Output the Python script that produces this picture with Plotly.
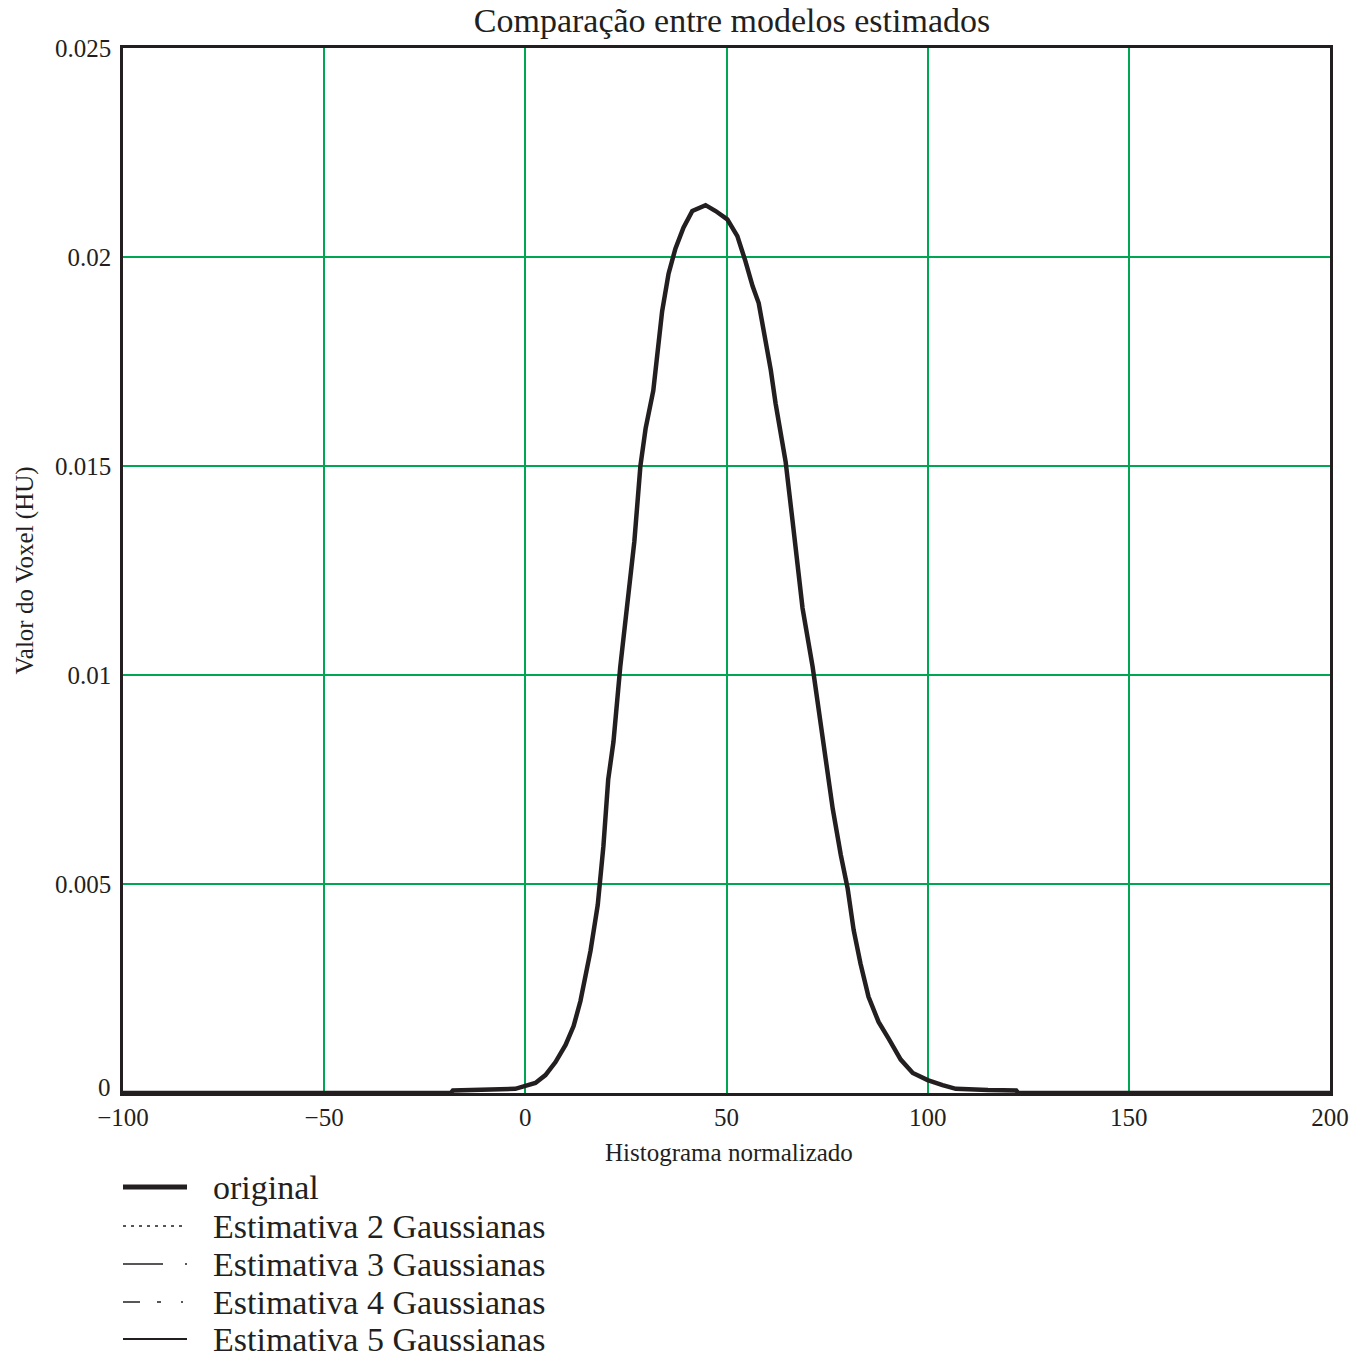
import plotly.graph_objects as go

# Data
x_vals = [-100, -60, -20, -18.5, -18, -10, -3, -2.5, 0, 2.5, 5, 7.5, 10, 12, 13.7, 15, 16.2, 18, 19.4,
          20.6, 21.9, 23.6, 24.9, 26.1, 27.1, 28.6, 29.9, 31.8, 32.6, 34, 35.6, 37.3, 39.3, 41.5,
          44.8, 47.3, 50.2, 52.7, 54.7, 56.5, 58, 59.7, 61, 62.2, 64.7, 66.4, 67.7, 68.9, 71.4,
          72.9, 74.6, 76.4, 78.4, 80.1, 81.6, 83.3, 85.3, 87.8, 90.3, 93.3, 96.3, 100, 103.7,
          107, 115, 122, 122.5, 150, 200]
y_original = [0, 0, 0, 0, 0.00006, 0.00007, 0.00008, 0.0001, 0.00017, 0.00024, 0.00043, 0.00074,
              0.00115, 0.0016, 0.0022, 0.0028, 0.0034, 0.0045, 0.0059, 0.0075, 0.0084, 0.0102,
              0.0113, 0.0123, 0.0132, 0.0150, 0.0159, 0.0168, 0.0175, 0.0187, 0.0196, 0.0202,
              0.0207, 0.0211, 0.02124, 0.0211, 0.0209, 0.0205, 0.0199, 0.0193, 0.0189, 0.0180,
              0.0173, 0.0165, 0.0151, 0.0137, 0.0125, 0.0116, 0.0102, 0.0092, 0.0080, 0.0068,
              0.0057, 0.0049, 0.0039, 0.0031, 0.0023, 0.0017, 0.0013, 0.0008, 0.00048, 0.00031,
              0.00019, 0.0001, 0.00007, 0.00006, 0, 0, 0]
# The estimated models coincide with the original curve in the picture
y_est2 = list(y_original)
y_est3 = list(y_original)
y_est4 = list(y_original)
y_est5 = list(y_original)

x_tickvals = [-100, -50, 0, 50, 100, 150, 200]
x_ticktext = ["\u2212100", "\u221250", "0", "50", "100", "150", "200"]
y_tickvals = [0.005, 0.01, 0.015, 0.02, 0.025]
y_ticktext = ["0.005", "0.01", "0.015", "0.02", "0.025"]
y_zero_label = "0"

legend_names = ["original", "Estimativa 2 Gaussianas", "Estimativa 3 Gaussianas",
                "Estimativa 4 Gaussianas", "Estimativa 5 Gaussianas"]
legend_widths = [5, 1.6, 1.6, 1.6, 2]
legend_dashes = ["solid", "3px,5px", "40px,22px,2px,30px", "17px,17px,4px,20px,2px,30px", "solid"]

FONT = "Liberation Serif, Times New Roman, serif"
GRID = "#00a651"
INK = "#231f20"

L, R, T, B = 123, 40, 48, 266
W, H = 1370, 1359
W_PLOT = W - L - R
H_PLOT = H - T - B

fig = go.Figure()
series = [y_est2, y_est3, y_est4, y_est5]
for i, ys in enumerate(series):
    fig.add_trace(go.Scatter(x=x_vals, y=ys, mode="lines", name=legend_names[i + 1],
                             line=dict(color=INK, width=legend_widths[i + 1],
                                       dash=legend_dashes[i + 1]), showlegend=False))
fig.add_trace(go.Scatter(x=x_vals, y=y_original, mode="lines", name=legend_names[0],
                         line=dict(color=INK, width=4.5), showlegend=False))

# Manual legend below the plot
row_y = [1187, 1226, 1264, 1302, 1339]
for i, name in enumerate(legend_names):
    yp = (H - B - row_y[i]) / H_PLOT
    fig.add_shape(type="line", xref="paper", yref="paper",
                  x0=0, x1=(187 - L) / W_PLOT, y0=yp, y1=yp,
                  line=dict(color=INK, width=legend_widths[i], dash=legend_dashes[i]))
    fig.add_annotation(xref="paper", yref="paper", x=(211 - L) / W_PLOT, y=yp,
                       xanchor="left", yanchor="middle", text=name, showarrow=False,
                       font=dict(family=FONT, size=34, color=INK))

# Zero label on y axis (raised slightly, as in the original)
fig.add_annotation(xref="paper", yref="y", x=(113 - L) / W_PLOT, y=0, yshift=6,
                   xanchor="right", yanchor="middle", text=y_zero_label, showarrow=False,
                   font=dict(family=FONT, size=25, color=INK))

# Axis titles
fig.add_annotation(xref="paper", yref="paper", x=(729 - L) / W_PLOT, y=(H - B - 1152) / H_PLOT,
                   xanchor="center", yanchor="middle", text="Histograma normalizado",
                   showarrow=False, font=dict(family=FONT, size=25, color=INK))
fig.add_annotation(xref="paper", yref="paper", x=(24 - L) / W_PLOT, y=0.5,
                   xanchor="center", yanchor="middle", text="Valor do Voxel (HU)", textangle=-90,
                   showarrow=False, font=dict(family=FONT, size=25, color=INK))

fig.update_layout(
    width=W, height=H,
    margin=dict(l=L, r=R, t=T, b=B),
    paper_bgcolor="white", plot_bgcolor="white",
    title=dict(text="Comparação entre modelos estimados", x=732 / W, xanchor="center",
               y=1 - 20 / H, yanchor="middle",
               font=dict(family=FONT, size=34, color=INK)),
    font=dict(family=FONT, color=INK),
    showlegend=False,
)
fig.update_xaxes(range=[-100, 200], tickvals=x_tickvals, ticktext=x_ticktext,
                 showgrid=True, gridcolor=GRID, gridwidth=1.5, zeroline=False,
                 showline=True, linecolor=INK, linewidth=2.5, mirror=True, automargin=False,
                 ticks="", tickfont=dict(family=FONT, size=25, color=INK))
fig.update_yaxes(range=[0, 0.025], tickvals=y_tickvals, ticktext=y_ticktext,
                 showgrid=True, gridcolor=GRID, gridwidth=1.5, zeroline=False,
                 showline=True, linecolor=INK, linewidth=2.5, mirror=True, automargin=False,
                 ticks="", ticklabelstandoff=4, tickfont=dict(family=FONT, size=25, color=INK))

fig.write_html("out.html", config={"displayModeBar": False},
               post_script="document.body.style.margin='0';document.body.style.padding='0';")
